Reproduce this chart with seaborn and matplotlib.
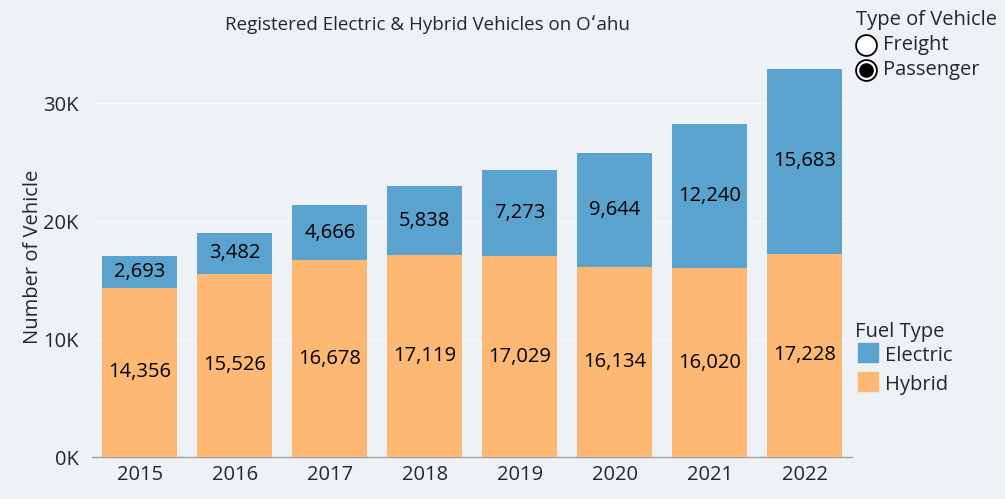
import matplotlib
matplotlib.use("Agg")
import matplotlib.pyplot as plt
import seaborn as sns
import pandas as pd
from matplotlib.ticker import FuncFormatter

years = ["2015", "2016", "2017", "2018", "2019", "2020", "2021", "2022"]
hybrid = [14356, 15526, 16678, 17119, 17029, 16134, 16020, 17228]
electric = [2693, 3482, 4666, 5838, 7273, 9644, 12240, 15683]

bg = "#eef1f5"
c_elec = "#5ba3cf"
c_hyb = "#fdb874"

sns.set_theme(style="white")
plt.rcParams["font.family"] = ["Open Sans", "DejaVu Sans"]

df = pd.DataFrame({"year": years, "hybrid": hybrid, "electric": electric})
df["total"] = df["hybrid"] + df["electric"]

fig = plt.figure(figsize=(10.05, 4.99), dpi=100, facecolor=bg)
ax = fig.add_axes([0.092, 0.084, 0.756, 0.804])
ax.set_facecolor(bg)

sns.barplot(data=df, x="year", y="total", color=c_elec, width=0.79,
            saturation=1, linewidth=0, edgecolor="none", ax=ax, zorder=3)
sns.barplot(data=df, x="year", y="hybrid", color=c_hyb, width=0.79,
            saturation=1, linewidth=0, edgecolor="none", ax=ax, zorder=3)

for i, row in df.iterrows():
    ax.text(i, row["hybrid"] / 2, f"{row['hybrid']:,}", ha="center", va="center",
            fontsize=14.5, color="black", zorder=4)
    ax.text(i, row["hybrid"] + row["electric"] / 2, f"{row['electric']:,}",
            ha="center", va="center", fontsize=14.5, color="black", zorder=4)

ax.set_xlim(-0.5, 7.5)
ax.set_ylim(0, 34000)
ax.set_yticks([0, 10000, 20000, 30000])
ax.yaxis.set_major_formatter(FuncFormatter(lambda v, p: f"{int(v / 1000)}K"))
ax.grid(axis="y", color="#f7f9fb", linewidth=1, zorder=0)
ax.tick_params(axis="both", labelsize=14.5, length=0)
ax.tick_params(axis="y", pad=10)
ax.tick_params(axis="x", pad=6)
ax.set_xlabel("")
ax.set_ylabel("Number of Vehicle", fontsize=14.5, labelpad=0)
for s in ["top", "right", "left"]:
    ax.spines[s].set_visible(False)
ax.spines["bottom"].set_color("#a0a0a0")
ax.spines["bottom"].set_linewidth(1)

fig.text(0.425, 0.950, "Registered Electric & Hybrid Vehicles on Oʻahu",
         ha="center", va="center", fontsize=13.5)

# Type of Vehicle selector
fig.text(0.852, 0.960, "Type of Vehicle", fontsize=14.5, va="center")
fig.text(0.879, 0.910, "Freight", fontsize=14.5, va="center")
fig.text(0.879, 0.860, "Passenger", fontsize=14.5, va="center")
fig.lines.append(plt.Line2D([0.8615], [0.910], marker="o", markersize=15,
                            markerfacecolor="white", markeredgecolor="black",
                            markeredgewidth=1.3, transform=fig.transFigure))
fig.lines.append(plt.Line2D([0.8615], [0.860], marker="o", markersize=15,
                            markerfacecolor="white", markeredgecolor="black",
                            markeredgewidth=1.3, transform=fig.transFigure))
fig.lines.append(plt.Line2D([0.8615], [0.860], marker="o", markersize=9.5,
                            markerfacecolor="black", markeredgecolor="black",
                            transform=fig.transFigure))

# Fuel Type legend
fig.text(0.851, 0.335, "Fuel Type", fontsize=14.5, va="center")
fig.patches.append(plt.Rectangle((0.854, 0.275), 0.020, 0.038, color=c_elec,
                                 transform=fig.transFigure))
fig.patches.append(plt.Rectangle((0.854, 0.216), 0.020, 0.038, color=c_hyb,
                                 transform=fig.transFigure))
fig.text(0.881, 0.287, "Electric", fontsize=14.5, va="center")
fig.text(0.881, 0.228, "Hybrid", fontsize=14.5, va="center")

plt.savefig("out.png", dpi=100, facecolor=bg)
